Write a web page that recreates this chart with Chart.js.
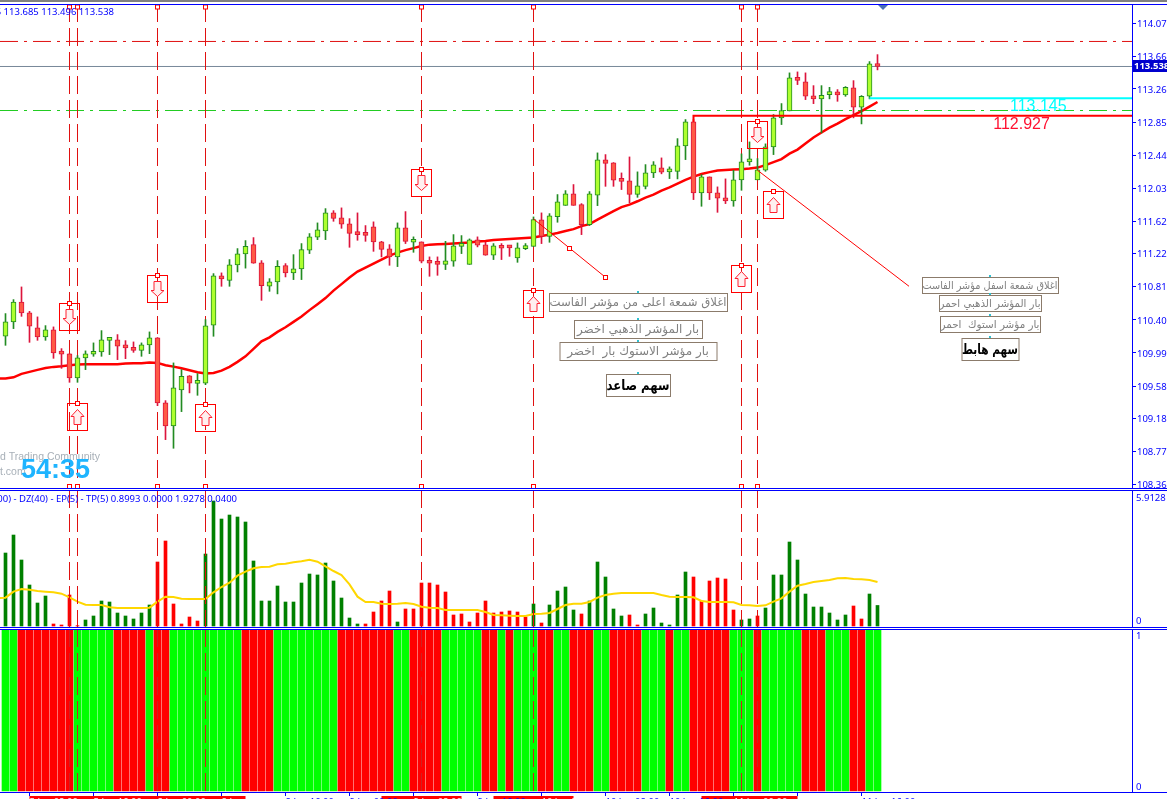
<!DOCTYPE html>
<html lang="en">
<head>
  <title>Chart</title>
  <script src="https://cdn.jsdelivr.net/npm/chart.js"></script>
  <style>
    html, body { margin: 0; padding: 0; background: #fff; overflow: hidden; }
    canvas { position: absolute; left: 0; }
  </style>
</head>
<body>
<canvas id="mainChart" width="1167" height="489" style="top:0"></canvas>
<canvas id="oscChart" width="1167" height="139" style="top:489px"></canvas>
<canvas id="trendChart" width="1167" height="171" style="top:628px"></canvas>

<script>
// candles, oldest first
const opens = [
  110.197,110.375,110.622,110.486,110.301,110.189,110.276,109.986,109.979,109.681,
  109.929,109.974,110.003,110.146,110.152,110.078,110.041,110.023,110.090,110.177,
  109.372,109.087,109.533,109.706,109.613,109.615,110.333,110.945,110.890,111.081,
  111.217,111.332,111.106,110.816,110.870,111.072,110.982,111.031,111.262,111.423,
  111.502,111.725,111.663,111.589,111.477,111.465,111.552,111.366,111.279,111.180,
  111.539,111.361,111.366,111.126,111.106,111.088,111.126,111.310,111.088,111.390,
  111.329,111.200,111.316,111.299,111.168,111.283,111.311,111.638,111.435,111.679,
  111.819,111.960,111.828,111.580,111.943,112.381,112.344,112.138,112.121,111.955,
  112.054,112.220,112.282,112.232,112.240,112.555,112.852,111.973,112.171,111.973,
  111.911,111.874,112.134,112.357,112.134,112.253,112.542,112.902,112.988,113.397,
  113.347,113.174,113.137,113.190,113.199,113.186,113.273,113.033,113.169,113.565];
const highs = [
  110.478,110.651,110.808,110.506,110.437,110.329,110.313,110.044,109.982,109.958,
  110.016,110.115,110.267,110.164,110.218,110.143,110.127,110.115,110.251,110.181,
  109.400,109.867,109.784,109.710,109.735,110.403,110.973,110.982,111.147,111.283,
  111.382,111.419,111.134,110.911,111.134,111.097,111.208,111.345,111.469,111.601,
  111.778,111.753,111.787,111.654,111.725,111.568,111.614,111.373,111.332,111.601,
  111.741,111.428,111.366,111.180,111.180,111.373,111.456,111.444,111.403,111.428,
  111.361,111.345,111.345,111.320,111.353,111.345,111.675,111.725,111.716,111.952,
  112.001,112.076,111.840,111.989,112.468,112.447,112.348,112.220,112.418,112.233,
  112.323,112.360,112.406,112.295,112.645,112.881,112.881,112.199,112.171,112.047,
  112.146,112.253,112.456,112.604,112.398,112.580,112.943,113.079,113.459,113.471,
  113.459,113.301,113.301,113.280,113.252,113.289,113.363,113.178,113.599,113.685];
const lows = [
  110.085,110.292,110.444,110.122,110.147,110.147,109.924,109.800,109.627,109.627,
  109.784,109.949,109.949,109.970,109.908,109.920,109.998,109.949,109.982,109.338,
  108.917,108.810,109.264,109.496,109.466,109.598,110.197,110.816,110.816,110.994,
  111.041,111.101,110.642,110.754,110.722,110.932,110.899,110.899,111.221,111.394,
  111.394,111.621,111.534,111.299,111.386,111.373,111.249,111.180,111.076,111.060,
  111.345,111.237,111.106,110.940,110.952,111.023,111.064,111.221,111.088,111.304,
  111.200,111.147,111.147,111.187,111.113,111.270,111.311,111.345,111.361,111.609,
  111.819,111.819,111.456,111.568,111.815,112.054,112.054,112.014,111.849,111.918,
  112.022,112.162,112.209,112.150,112.146,112.385,111.890,111.807,111.890,111.732,
  111.840,111.807,112.005,112.315,112.134,112.240,112.447,112.819,112.988,113.314,
  113.128,113.078,112.716,113.137,113.107,113.169,112.902,112.827,113.137,113.496];
const closes = [
  110.375,110.622,110.486,110.321,110.189,110.276,109.991,109.975,109.681,109.929,
  109.979,110.003,110.152,110.156,110.073,110.053,110.023,110.090,110.177,109.372,
  109.087,109.558,109.701,109.615,109.623,110.325,110.945,110.908,111.081,111.217,
  111.311,111.103,110.825,110.870,111.064,110.982,111.031,111.270,111.428,111.514,
  111.725,111.658,111.584,111.472,111.456,111.447,111.366,111.274,111.180,111.539,
  111.373,111.373,111.126,111.101,111.088,111.131,111.316,111.316,111.390,111.324,
  111.200,111.316,111.287,111.292,111.292,111.316,111.642,111.435,111.688,111.861,
  111.960,111.819,111.580,111.960,112.381,112.339,112.129,112.116,111.955,112.059,
  112.220,112.319,112.228,112.245,112.555,112.852,111.973,112.171,111.973,111.906,
  111.874,112.134,112.357,112.394,112.258,112.542,112.902,112.992,113.397,113.367,
  113.169,113.137,113.181,113.199,113.186,113.280,113.033,113.169,113.570,113.538];

// moving average, first value is the bar just off the left edge
const maValues = [
  109.673,
  109.673,109.689,109.731,109.756,109.781,109.805,109.818,109.825,109.838,109.846,
  109.850,109.850,109.850,109.850,109.850,109.859,109.862,109.862,109.871,109.867,
  109.838,109.821,109.800,109.776,109.751,109.735,109.743,109.772,109.818,109.880,
  109.949,110.041,110.135,110.184,110.251,110.308,110.375,110.441,110.521,110.595,
  110.670,110.763,110.843,110.924,110.998,111.048,111.097,111.147,111.196,111.233,
  111.264,111.289,111.314,111.332,111.336,111.341,111.345,111.351,111.357,111.370,
  111.376,111.388,111.394,111.401,111.407,111.413,111.419,111.438,111.456,111.475,
  111.500,111.524,111.561,111.586,111.642,111.695,111.747,111.797,111.828,111.869,
  111.915,111.952,112.001,112.042,112.088,112.134,112.175,112.206,112.230,112.249,
  112.255,112.261,112.267,112.274,112.286,112.317,112.354,112.391,112.459,112.509,
  112.583,112.658,112.720,112.781,112.831,112.887,112.936,112.986,113.042,113.098];

// oscillator histogram and its signal line
const oscValues = [
  3.197,3.985,2.891,1.796,1.007,1.314,0.088,0.044,1.358,0.015,
  0.263,0.438,1.095,1.051,0.569,0.438,0.307,0.569,0.920,2.803,
  3.723,0.964,0.088,0.394,0.219,3.153,5.474,4.686,4.861,4.774,
  4.555,2.847,1.095,1.095,1.752,1.051,1.051,1.883,2.277,2.234,
  2.759,1.971,1.226,0.350,0.088,0.088,0.613,1.095,1.533,0.175,
  0.745,0.745,1.883,1.883,1.796,1.489,0.482,0.526,0.175,0.569,
  1.095,0.569,0.613,0.657,0.613,0.394,0.964,0.131,0.920,1.533,
  1.708,0.701,0.526,1.095,2.803,2.146,0.745,0.438,0.482,0.044,
  0.526,0.788,0.131,0.044,1.358,2.365,2.146,1.095,1.971,2.102,
  2.058,0.701,0.263,0.307,0.438,0.788,2.234,2.234,3.679,2.891,
  1.401,0.832,0.832,0.569,0.263,0.482,0.876,0.307,1.401,0.8993];
const oscUp = [
  1,1,1,1,1,1,0,0,0,0, 1,1,1,1,1,1,1,1,1,0,
  0,0,0,0,0,1,1,1,1,1, 1,1,1,1,1,1,1,1,1,1,
  1,1,1,1,1,0,0,0,0,1, 0,0,0,0,0,0,0,0,0,0,
  0,0,0,0,0,0,1,0,1,1, 1,1,0,1,1,1,1,1,0,0,
  1,1,1,1,1,1,0,0,0,0, 0,0,1,1,0,1,1,1,1,1,
  1,1,1,1,1,1,0,0,1,1];
const signalValues = [
  1.212,
  1.241,1.504,1.620,1.591,1.533,1.504,1.474,1.416,1.255,1.066,
  0.934,0.920,0.920,0.818,0.788,0.788,0.788,0.788,0.803,1.066,
  1.285,1.270,1.197,1.182,1.182,1.182,1.474,1.708,1.898,2.204,
  2.380,2.526,2.584,2.599,2.701,2.730,2.788,2.832,2.905,2.818,
  2.613,2.409,2.234,1.825,1.285,1.051,1.051,0.978,0.964,0.978,
  1.007,0.964,0.847,0.803,0.788,0.701,0.701,0.701,0.701,0.701,
  0.613,0.482,0.467,0.453,0.438,0.438,0.526,0.540,0.569,0.745,
  0.920,0.978,0.978,1.051,1.241,1.358,1.416,1.445,1.445,1.445,
  1.445,1.445,1.358,1.285,1.270,1.270,1.255,1.095,1.051,1.051,
  1.051,1.036,0.920,0.905,0.876,0.905,1.066,1.212,1.504,1.766,
  1.839,1.927,1.971,2.015,2.088,2.102,2.058,2.044,2.015,1.9278];

// bottom panel, 1 = green, 0 = red
const trendUp = [
  1,1,0,0,0,0,0,0,0,1, 1,1,1,1,0,0,0,0,1,0,
  0,1,1,1,1,1,1,1,1,1, 0,0,0,0,1,1,1,1,1,1,
  1,1,0,0,0,0,0,0,0,1, 1,0,0,0,0,1,1,1,1,1,
  0,0,1,0,1,1,1,0,0,1, 1,0,0,0,1,1,0,0,0,0,
  1,1,1,0,1,1,0,0,0,0, 0,1,1,1,0,1,1,1,1,1,
  0,0,0,1,1,1,0,0,1,1];

const priceTicks = [114.07,113.66,113.26,112.85,112.44,112.03,111.62,111.22,110.81,110.40,109.99,109.58,109.18,108.77,108.36];
const eventBars = [8,9,19,25,52,66,92,94];
const timeBars = [3,11,19,27,35,43,51,59,67,75,83,91,99,107];
const timeLabels = ['5 Jan 08:00','5 Jan 16:00','8 Jan 00:00','8 Jan 08:00','8 Jan 16:00','9 Jan 00:00','9 Jan 08:00','9 Jan 16:00','10 Jan 00:00','10 Jan 08:00','10 Jan 16:00','11 Jan 00:00','11 Jan 08:00','11 Jan 16:00'];
const redTimeSpans = [[3,30],[47,57],[61,71],[87,99]];

const lastPrice = 113.538;
const upperDashLevel = 113.848;
const lowerDashLevel = 112.993;
const cyanLevel = 113.145;
const redLevel = 112.927;

const BLUE = '#0000FF';
const EVENT_RED = '#E01010';
const X_MIN = -0.6875, X_MAX = 140.8125;
const AXIS_FONT = { family: 'Noto Sans', size: 9.5 };

const series = vals => vals.map((v, i) => ({ x: i, y: v }));
const leadSeries = vals => vals.map((v, i) => ({ x: i - 1, y: v }));

function lineSet(data, color, width, order, dash) {
  return { type: 'line', data, borderColor: color, borderWidth: width, borderDash: dash || [], pointRadius: 0, tension: 0, fill: false, order };
}

function eventLines(yMin, yMax, color, order) {
  return eventBars.map(b => lineSet([{ x: b, y: yMax }, { x: b, y: yMin }], color, 1, order, [18, 6]));
}

function rightAxis(min, max, extra) {
  return Object.assign({
    type: 'linear', position: 'right', min, max,
    border: { color: BLUE, width: 1 },
    grid: { drawOnChartArea: false, color: BLUE, tickLength: 4 },
    ticks: { display: false },
    afterFit: s => { s.width = 35; s.paddingTop = 0; s.paddingBottom = 0; }
  }, extra || {});
}

function hiddenX() {
  return { type: 'linear', display: false, min: X_MIN, max: X_MAX, offset: false };
}

function panelFrame(chart) {
  const { ctx, chartArea, width } = chart;
  ctx.save();
  ctx.fillStyle = BLUE;
  ctx.fillRect(0, chartArea.top, width, 1);
  ctx.fillRect(0, chartArea.bottom, width, 1);
  ctx.restore();
}

function edgeLabels(chart, labels) {
  const { ctx } = chart;
  const y = chart.scales.y;
  ctx.save();
  ctx.font = '9.5px "Noto Sans"';
  ctx.fillStyle = BLUE;
  ctx.textBaseline = 'middle';
  labels.forEach(l => ctx.fillText(l.text, 1136, y.getPixelForValue(l.value) + l.shift));
  ctx.restore();
}

// main panel
const arrowBoxes = [
  { bar: 8, price: 110.610, dir: 'down' },
  { bar: 9, price: 109.372, dir: 'up' },
  { bar: 19, price: 110.957, dir: 'down' },
  { bar: 25, price: 109.359, dir: 'up' },
  { bar: 52, price: 112.270, dir: 'down' },
  { bar: 66, price: 110.775, dir: 'up' },
  { bar: 92, price: 111.081, dir: 'up' },
  { bar: 94, price: 112.864, dir: 'down' },
  { bar: 96, price: 111.997, dir: 'up' }
];
const noteBoxes = [
  { bar: 79, price: 110.742, w: 178, h: 18, text: 'اغلاق شمعة اعلى من مؤشر الفاست', font: '12px "DejaVu Sans"', color: '#808080' },
  { bar: 79, price: 110.407, w: 128, h: 18, text: 'بار المؤشر الذهبي اخضر', font: '12px "DejaVu Sans"', color: '#808080' },
  { bar: 79, price: 110.127, w: 157, h: 18, text: 'بار مؤشر الاستوك بار  اخضر', font: '12px "DejaVu Sans"', color: '#808080' },
  { bar: 79, price: 109.731, w: 64, h: 22, text: 'سهم صاعد', font: 'bold 14px "DejaVu Sans"', color: '#000000' },
  { bar: 123, price: 110.932, w: 136, h: 16, text: 'اغلاق شمعة اسفل مؤشر الفاست', font: '11px "DejaVu Sans"', color: '#808080' },
  { bar: 123, price: 110.710, w: 102, h: 16, text: 'بار المؤشر الذهبي احمر', font: '11px "DejaVu Sans"', color: '#808080' },
  { bar: 123, price: 110.449, w: 100, h: 16, text: 'بار مؤشر استوك  احمر', font: '11px "DejaVu Sans"', color: '#808080' },
  { bar: 123, price: 110.177, w: 57, h: 22, text: 'سهم هابط', font: 'bold 14px "DejaVu Sans"', color: '#000000' }
];
const trendHandles = [
  { bar: 70.4, price: 111.291 },
  { bar: 74.94, price: 110.932 }
];

function handle(ctx, x, y) {
  ctx.fillStyle = '#fff';
  ctx.strokeStyle = '#FF0000';
  ctx.lineWidth = 1;
  ctx.fillRect(x - 2, y - 2, 4, 4);
  ctx.strokeRect(x - 2, y - 2, 4, 4);
}

function drawArrow(ctx, cx, top, dir) {
  const pts = dir === 'up'
    ? [[0, 6], [6.5, 13], [3.5, 13], [3.5, 21], [-3.5, 21], [-3.5, 13], [-6.5, 13]]
    : [[-3.5, 6], [3.5, 6], [3.5, 15], [6.5, 15], [0, 21], [-6.5, 15], [-3.5, 15]];
  ctx.beginPath();
  pts.forEach((p, i) => i ? ctx.lineTo(cx + p[0], top + p[1]) : ctx.moveTo(cx + p[0], top + p[1]));
  ctx.closePath();
  ctx.fillStyle = '#FFF0F0';
  ctx.fill();
  ctx.strokeStyle = '#FF2030';
  ctx.lineWidth = 1;
  ctx.stroke();
}

const mainAnnotations = {
  id: 'mainAnnotations',
  afterDatasetsDraw(chart) {
    const { ctx, scales: { x, y } } = chart;
    ctx.save();

    // corner text
    ctx.textAlign = 'left';
    ctx.textBaseline = 'middle';
    ctx.font = '10.5px "Liberation Sans"';
    ctx.fillStyle = '#A8B0B8';
    ctx.fillText('d Trading Community', 0, 457);
    ctx.fillText('t.com', 0, 472);
    ctx.font = 'bold 27px "Liberation Sans"';
    ctx.fillStyle = '#1EB4FF';
    ctx.fillText('54:35', 21, 471);

    // end of the vertical lines
    eventBars.forEach(b => {
      const px = Math.round(x.getPixelForValue(b) - 0.5) + 0.5;
      handle(ctx, px, 7);
      handle(ctx, px, 486.5);
    });

    // arrows in boxes
    arrowBoxes.forEach(a => {
      const cx = Math.round(x.getPixelForValue(a.bar) - 0.5) + 0.5;
      const top = Math.round(y.getPixelForValue(a.price) + 0.4) + 0.5;
      ctx.strokeStyle = '#FF0000';
      ctx.lineWidth = 1;
      ctx.strokeRect(cx - 10, top, 20, 27);
      drawArrow(ctx, cx, top, a.dir);
      handle(ctx, cx, top);
    });

    trendHandles.forEach(h => handle(ctx, Math.round(x.getPixelForValue(h.bar)) + 0.5, Math.round(y.getPixelForValue(h.price) + 0.4) + 0.5));

    // level values
    ctx.textAlign = 'center';
    ctx.font = '16px "Liberation Sans"';
    ctx.fillStyle = '#00FFFF';
    ctx.fillText(cyanLevel.toFixed(3), x.getPixelForValue(129.1), y.getPixelForValue(113.04));
    ctx.fillStyle = '#FF1030';
    ctx.fillText(redLevel.toFixed(3), x.getPixelForValue(127), y.getPixelForValue(112.815));

    // arabic note boxes
    noteBoxes.forEach(n => {
      const cx = Math.round(x.getPixelForValue(n.bar));
      const top = Math.round(y.getPixelForValue(n.price) + 0.4);
      ctx.fillStyle = '#fff';
      ctx.fillRect(cx - n.w / 2, top, n.w, n.h);
      ctx.strokeStyle = '#8B7B6B';
      ctx.lineWidth = 1;
      ctx.strokeRect(cx - n.w / 2 + 0.5, top + 0.5, n.w, n.h);
      ctx.fillStyle = '#30C0D0';
      ctx.fillRect(cx - 1, top - 2, 2, 2);
      ctx.direction = 'rtl';
      ctx.font = n.font;
      ctx.fillStyle = n.color;
      ctx.fillText(n.text, cx, top + n.h / 2 + 1, n.w - 1);
      ctx.direction = 'ltr';
    });

    // header
    ctx.textAlign = 'right';
    ctx.font = '9.5px "Noto Sans"';
    ctx.fillStyle = BLUE;
    ctx.fillText(`113.565 113.685 113.496 ${lastPrice.toFixed(3)}`, 114, 12.5);

    // chart shift mark
    ctx.fillStyle = '#4A6FB5';
    ctx.beginPath();
    ctx.moveTo(878, 5);
    ctx.lineTo(888, 5);
    ctx.lineTo(883, 10);
    ctx.closePath();
    ctx.fill();
    ctx.restore();
  },
  afterDraw(chart) {
    const { ctx, scales: { y }, chartArea } = chart;
    panelFrame(chart);
    ctx.save();
    ctx.fillStyle = '#808080';
    ctx.fillRect(0, 0, chart.width, 2);
    const py = Math.round(y.getPixelForValue(lastPrice));
    ctx.fillStyle = '#0000CD';
    ctx.fillRect(chartArea.right + 1, py - 6, 35, 12);
    ctx.fillStyle = '#fff';
    ctx.font = 'bold 9.5px "Noto Sans"';
    ctx.textBaseline = 'middle';
    ctx.fillText(lastPrice.toFixed(3), 1134, py + 0.5);
    ctx.restore();
  }
};

const isBull = i => closes[i] >= opens[i];
const candleBars = opens.map((_, i) => i);

new Chart(document.getElementById('mainChart'), {
  type: 'bar',
  data: {
    datasets: [
      lineSet([{ x: X_MIN, y: upperDashLevel }, { x: X_MAX, y: upperDashLevel }], EVENT_RED, 1, 9, [18, 6, 3, 6]),
      lineSet([{ x: X_MIN, y: lowerDashLevel }, { x: X_MAX, y: lowerDashLevel }], '#22CC22', 1, 9, [18, 6, 3, 6]),
      lineSet([{ x: X_MIN, y: lastPrice }, { x: X_MAX, y: lastPrice }], '#778899', 1, 9),
      ...eventLines(108.318, 114.312, EVENT_RED, 8),
      lineSet(leadSeries(maValues), '#FF0000', 2.5, 5),
      {
        type: 'bar', grouped: false, order: 4, barThickness: 1, borderWidth: 0,
        data: candleBars.map(i => ({ x: i, y: [lows[i], highs[i]] })),
        backgroundColor: candleBars.map(i => isBull(i) ? '#228B22' : '#DC143C')
      },
      {
        type: 'bar', grouped: false, order: 3, barThickness: 5, borderWidth: 1, borderSkipped: false, minBarLength: 3,
        data: candleBars.map(i => ({ x: i, y: [opens[i], closes[i]] })),
        backgroundColor: candleBars.map(i => isBull(i) ? '#ADFF2F' : '#FF5A46'),
        borderColor: candleBars.map(i => isBull(i) ? '#228B22' : '#DC143C')
      },
      lineSet([{ x: 66, y: 111.651 }, { x: 74.94, y: 110.932 }], '#FF0000', 1, 2),
      lineSet([{ x: 94, y: 112.253 }, { x: 112.94, y: 110.816 }], '#FF0000', 1, 2),
      lineSet([{ x: 86, y: 112.852 }, { x: 86, y: redLevel }, { x: X_MAX, y: redLevel }], '#FF0000', 2, 2),
      lineSet([{ x: 108, y: cyanLevel }, { x: X_MAX, y: cyanLevel }], '#00FFFF', 2, 2)
    ]
  },
  options: {
    responsive: false, animation: false, devicePixelRatio: 1,
    layout: { padding: { top: 4, bottom: 1 } },
    plugins: { legend: { display: false }, tooltip: { enabled: false } },
    scales: {
      x: hiddenX(),
      y: rightAxis(108.318, 114.312, {
        afterBuildTicks: s => { s.ticks = priceTicks.map(v => ({ value: v })); },
        ticks: { display: true, color: BLUE, font: AXIS_FONT, padding: 1, labelOffset: 1, autoSkip: false, callback: v => v.toFixed(3) }
      })
    }
  },
  plugins: [mainAnnotations]
});

// oscillator panel
new Chart(document.getElementById('oscChart'), {
  type: 'bar',
  data: {
    datasets: [
      {
        type: 'bar', grouped: false, order: 3, barThickness: 3, borderWidth: 0,
        data: series(oscValues),
        backgroundColor: oscUp.map(u => u ? '#008000' : '#FF0000')
      },
      lineSet(leadSeries(signalValues), '#FFD700', 2, 2),
      ...eventLines(-0.044, 5.957, EVENT_RED, 1)
    ]
  },
  options: {
    responsive: false, animation: false, devicePixelRatio: 1,
    layout: { padding: { top: 1, bottom: 1 } },
    plugins: { legend: { display: false }, tooltip: { enabled: false } },
    scales: { x: hiddenX(), y: rightAxis(-0.044, 5.957, { grid: { display: false } }) }
  },
  plugins: [{
    id: 'oscText',
    afterDraw(chart) {
      const { ctx } = chart;
      panelFrame(chart);
      edgeLabels(chart, [{ text: '5.9128', value: 5.9128, shift: 7 }, { text: '0', value: 0, shift: -5 }]);
      ctx.save();
      ctx.textAlign = 'right';
      ctx.textBaseline = 'middle';
      ctx.font = '9.5px "Noto Sans"';
      ctx.fillStyle = BLUE;
      ctx.fillText('(200) - DZ(40) - EP(5) - TP(5) 0.8993 0.0000 1.9278 0.0400', 237, 10.5);
      ctx.restore();
    }
  }]
});

// trend panel with the time axis
const inRedSpan = b => redTimeSpans.some(s => b >= s[0] && b <= s[1]);

new Chart(document.getElementById('trendChart'), {
  type: 'bar',
  data: {
    datasets: [
      {
        type: 'bar', grouped: false, order: 2, barThickness: 7, borderWidth: 0,
        data: series(trendUp.map(() => 1)),
        backgroundColor: trendUp.map(u => u ? '#00FF00' : '#FF0000')
      },
      ...eventLines(-0.0062, 1.0062, '#D02020', 1)
    ]
  },
  options: {
    responsive: false, animation: false, devicePixelRatio: 1,
    layout: { padding: { top: 1 } },
    plugins: { legend: { display: false }, tooltip: { enabled: false } },
    scales: {
      x: {
        type: 'linear', position: 'bottom', min: X_MIN, max: X_MAX, offset: false,
        border: { color: BLUE, width: 1 },
        grid: { drawOnChartArea: false, color: BLUE, tickLength: 4, offset: false },
        afterBuildTicks: s => { s.ticks = timeBars.map(v => ({ value: v })); },
        afterFit: s => { s.height = 7; s.paddingLeft = 0; s.paddingRight = 0; },
        ticks: {
          padding: 1, autoSkip: false, maxRotation: 0, minRotation: 0, align: 'start', font: AXIS_FONT,
          color: c => inRedSpan(c.tick ? c.tick.value : 0) ? '#FFFFFF' : BLUE,
          callback: v => timeLabels[timeBars.indexOf(v)]
        }
      },
      y: rightAxis(-0.0062, 1.0062, { grid: { display: false } })
    }
  },
  plugins: [{
    id: 'trendText',
    beforeDraw(chart) {
      const { ctx, scales: { x }, chartArea } = chart;
      ctx.save();
      ctx.fillStyle = '#FF0000';
      redTimeSpans.forEach(s => {
        const a = x.getPixelForValue(s[0]), b = x.getPixelForValue(s[1]);
        ctx.fillRect(a, chartArea.bottom + 4, b - a, 8);
      });
      ctx.restore();
    },
    afterDraw(chart) {
      panelFrame(chart);
      edgeLabels(chart, [{ text: '1', value: 1, shift: 6 }, { text: '0', value: 0, shift: -4 }]);
    }
  }]
});
</script>
</body>
</html>
